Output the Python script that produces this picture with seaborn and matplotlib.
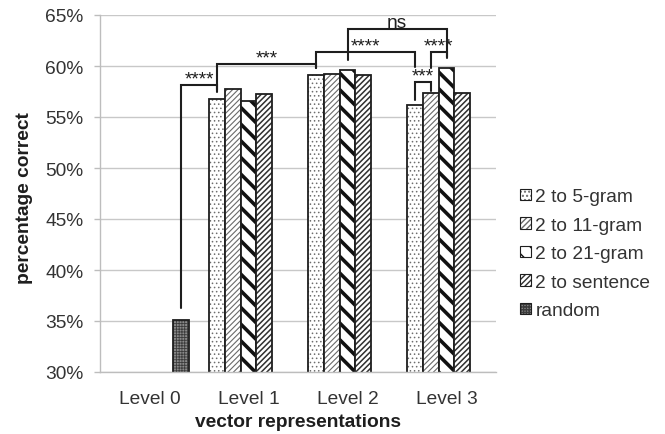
import matplotlib
matplotlib.use("Agg")
import matplotlib.pyplot as plt
import matplotlib.patches as mpatches
from matplotlib.colors import to_rgba
from matplotlib.ticker import FixedLocator, FuncFormatter
import pandas as pd
import seaborn as sns

# ---- data -------------------------------------------------------------
levels = ["Level 0", "Level 1", "Level 2", "Level 3"]
series = ["2 to 5-gram", "2 to 11-gram", "2 to 21-gram", "2 to sentence", "random"]

gram5 = [56.8, 59.1, 56.2]       # Level 1..3
gram11 = [57.7, 59.2, 57.4]
gram21 = [56.6, 59.6, 59.8]
sentence = [57.3, 59.1, 57.4]
random_level0 = [35.1]          # Level 0 only

y_ticks = [30, 35, 40, 45, 50, 55, 60, 65]

# significance brackets: (left bar), (right bar), top, left end, right end, label
brackets = [
    (("Level 0", "random"), ("Level 1", "2 to 5-gram"), 58.1, 36.3, 57.45, "****"),
    (("Level 1", "2 to 5-gram"), ("Level 2", "2 to 5-gram"), 60.17, 57.6, 59.8, "***"),
    (("Level 2", "2 to 5-gram"), ("Level 3", "2 to 5-gram"), 61.35, 59.8, 59.87, "****"),
    (("Level 2", "2 to 21-gram"), ("Level 3", "2 to 21-gram"), 63.63, 60.59, 60.85, "ns"),
    (("Level 3", "2 to 11-gram"), ("Level 3", "2 to 21-gram"), 61.37, 59.8, 60.75, "****"),
    (("Level 3", "2 to 5-gram"), ("Level 3", "2 to 11-gram"), 58.4, 56.7, 57.58, "***"),
]

rows = []
for name, vals in zip(series[:4], [gram5, gram11, gram21, sentence]):
    for lvl, v in zip(levels[1:], vals):
        rows.append({"level": lvl, "series": name, "value": v})
rows.append({"level": levels[0], "series": "random", "value": random_level0[0]})
df = pd.DataFrame(rows)

# ---- styling ----------------------------------------------------------
sns.set_style("white")
plt.rcParams["font.family"] = ["Liberation Sans", "DejaVu Sans"]
FS = 13.8
TXT = "#333333"
INK = "#1e1e1e"
GRID = "#c8c8c8"

# facecolor, hatch, hatch colour, hatch linewidth
styles = {
    "2 to 5-gram": ("white", "....", "#6e6e6e", 0.6),
    "2 to 11-gram": ("white", "//////", "#6a6a6a", 0.8),
    "2 to 21-gram": ("white", "\\\\", "#111111", 2.6),
    "2 to sentence": ("white", "//////", "#303030", 1.1),
    "random": ("#8a8a8a", "++++++", "#3c3c3c", 0.6),
}


def apply_style(patch, name):
    fc, hatch, hc, hlw = styles[name]
    patch.set_facecolor(fc)
    patch.set_edgecolor(INK)
    patch.set_linewidth(1.3)
    patch.set_hatch(hatch)
    if hasattr(patch, "set_hatchcolor"):
        patch.set_hatchcolor(hc)
    else:
        patch._hatch_color = to_rgba(hc)
    if hasattr(patch, "set_hatch_linewidth"):
        patch.set_hatch_linewidth(hlw)
    else:
        patch._hatch_linewidth = hlw


fig = plt.figure(figsize=(6.65, 4.35), dpi=100)
ax = fig.add_axes([100 / 665, 1 - 373 / 435, 396 / 665, 357 / 435])

sns.barplot(data=df, x="level", y="value", hue="series", order=levels,
            hue_order=series, errorbar=None, width=0.8, ax=ax, legend=False)

# hatch the bars and remember where each one sits
bar_x = {}
for name, cont in zip(series, ax.containers):
    for patch in cont.patches:
        apply_style(patch, name)
        cx = patch.get_x() + patch.get_width() / 2
        bar_x[(levels[int(round(cx))], name)] = cx

# ---- axes -------------------------------------------------------------
ax.set_xlim(-0.5, 3.5)
ax.set_ylim(30, 65)
ax.yaxis.set_major_locator(FixedLocator(y_ticks))
ax.yaxis.set_major_formatter(FuncFormatter(lambda v, _: f"{v:.0f}%"))
ax.grid(axis="y", color=GRID, linewidth=1.0)
ax.set_axisbelow(True)

for side in ("top", "right"):
    ax.spines[side].set_visible(False)
for side in ("left", "bottom"):
    ax.spines[side].set_color("#bdbdbd")
    ax.spines[side].set_linewidth(1.0)

ax.set_xticks(range(len(levels)))
ax.set_xticklabels(levels)
ax.set_xticks([-0.5, 0.5, 1.5, 2.5, 3.5], minor=True)
ax.tick_params(axis="x", which="major", length=0, pad=13, labelsize=FS, labelcolor=TXT)
ax.tick_params(axis="x", which="minor", length=4, width=1.0, color="#bdbdbd", direction="out")
ax.tick_params(axis="y", length=4, width=1.0, color="#bdbdbd", pad=8, labelsize=FS,
               labelcolor=TXT, left=True)

ax.set_xlabel("vector representations", fontsize=FS, fontweight="bold", color=INK)
ax.set_ylabel("percentage correct", fontsize=FS, fontweight="bold", color=INK)
ax.xaxis.set_label_coords(0.499, -0.115)
ax.yaxis.set_label_coords(-0.168, 0.49)

# ---- significance brackets ---------------------------------------------
for left, right, top, yl, yr, label in brackets:
    x0, x1 = bar_x[left], bar_x[right]
    ax.plot([x0, x0, x1, x1], [yl, top, top, yr], color=INK, linewidth=1.5,
            solid_joinstyle="miter", clip_on=False, zorder=5)
    ax.text((x0 + x1) / 2, top + 0.15, label, ha="center", va="baseline",
            fontsize=FS, color=INK, zorder=6)

# ---- legend ----------------------------------------------------------------
handles = []
for name in series:
    h = mpatches.Patch(label=name)
    apply_style(h, name)
    h.set_linewidth(0.8)
    handles.append(h)
fig.legend(handles=handles, loc="center left", bbox_to_anchor=(520 / 665, 1 - 255 / 435),
           frameon=False, fontsize=FS, labelcolor=TXT, handlelength=0.55,
           handleheight=0.55, handletextpad=0.25, labelspacing=0.6, borderpad=0,
           borderaxespad=0)

fig.savefig("out.png", dpi=100)
